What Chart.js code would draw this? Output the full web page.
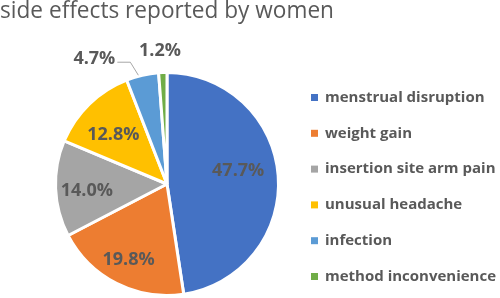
<!DOCTYPE html>
<html>
<head>
<meta charset="utf-8">
<script src="https://cdn.jsdelivr.net/npm/chart.js@4.4.1/dist/chart.umd.min.js"></script>
<style>
  html, body { margin: 0; padding: 0; background: #fff; }
  #grafico { display: block; }
</style>
</head>
<body>
<canvas id="grafico" width="500" height="298"></canvas>
<script>
// dados do gráfico
const categorias = [
    'menstrual disruption',
    'weight gain',
    'insertion site arm pain',
    'unusual headache',
    'infection',
    'method inconvenience'
];
const percentuais = [47.7, 19.8, 14.0, 12.8, 4.7, 1.2];
const cores = ['#4472C4', '#ED7D31', '#A5A5A5', '#FFC000', '#5B9BD5', '#70AD47'];

const corTexto = '#595959';
const fonte = "'Open Sans', 'Noto Sans', sans-serif";

// rótulos de porcentagem (dentro das fatias, e fora para as pequenas)
const rotulosPlugin = {
    id: 'rotulos',
    afterDatasetsDraw(chart) {
        const ctx = chart.ctx;
        const meta = chart.getDatasetMeta(0);
        // ajuste fino de cada rótulo interno (raio relativo e deslocamento vertical)
        const fatorRaio = [0.64, 0.76, 0.72, 0.69];
        const ajusteY = [-8, 0, 4, 6];
        ctx.save();
        ctx.font = `bold 18px ${fonte}`;
        ctx.fillStyle = corTexto;
        ctx.textBaseline = 'middle';
        meta.data.forEach((arc, i) => {
            const p = arc.getProps(['x', 'y', 'startAngle', 'endAngle', 'outerRadius'], true);
            const meio = (p.startAngle + p.endAngle) / 2;
            const texto = percentuais[i].toFixed(1) + '%';
            if (i < 4) {
                const r = p.outerRadius * fatorRaio[i];
                ctx.textAlign = 'center';
                ctx.fillText(texto, p.x + Math.cos(meio) * r, p.y + Math.sin(meio) * r + ajusteY[i]);
            } else if (i === 4) {
                // linha de chamada
                const ang = meio - 0.035;
                const x0 = p.x + Math.cos(ang) * (p.outerRadius + 1);
                const y0 = p.y + Math.sin(ang) * (p.outerRadius + 1);
                const xc = x0 - 8, yc = y0 - 13;
                const x1 = xc - 13;
                ctx.strokeStyle = '#A6A6A6';
                ctx.lineWidth = 1;
                ctx.beginPath();
                ctx.moveTo(x0, y0);
                ctx.lineTo(xc, yc);
                ctx.lineTo(x1, yc);
                ctx.stroke();
                ctx.textAlign = 'right';
                ctx.fillText(texto, x1 - 2, yc - 3);
            } else {
                const r = p.outerRadius + 23;
                ctx.textAlign = 'center';
                ctx.fillText(texto, p.x + Math.cos(meio) * r - 2, p.y + Math.sin(meio) * r + 1);
            }
        });
        ctx.restore();
    }
};

// legenda desenhada à mão, à direita
const legendaPlugin = {
    id: 'legendaDireita',
    afterDraw(chart) {
        const ctx = chart.ctx;
        ctx.save();
        ctx.font = `bold 15px ${fonte}`;
        ctx.textBaseline = 'middle';
        ctx.textAlign = 'left';
        categorias.forEach((nome, i) => {
            const y = 97.5 + i * 35.8;
            ctx.fillStyle = cores[i];
            ctx.fillRect(311, y - 3.5, 7, 7);
            ctx.fillStyle = corTexto;
            ctx.fillText(nome, 325, y);
        });
        ctx.restore();
    }
};

const ctx = document.getElementById('grafico').getContext('2d');
window.graficoEfeitos = new Chart(ctx, {
    type: 'pie',
    data: {
        labels: categorias,
        datasets: [{
            data: percentuais,
            backgroundColor: cores,
            borderColor: '#ffffff',
            borderWidth: 3
        }]
    },
    options: {
        responsive: false,
        animation: false,
        layout: {
            padding: { top: 0, right: 166, bottom: 1, left: 0 }
        },
        plugins: {
            legend: { display: false },
            tooltip: { enabled: false },
            title: {
                display: true,
                text: 'side effects reported by women',
                align: 'start',
                color: corTexto,
                font: { family: fonte, size: 23, weight: 'normal', lineHeight: 1.0 },
                padding: { top: 0, bottom: 48 }
            }
        }
    },
    plugins: [rotulosPlugin, legendaPlugin]
});
</script>
</body>
</html>
